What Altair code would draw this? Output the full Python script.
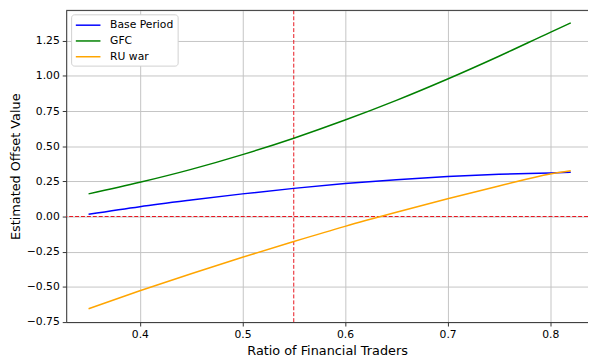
import altair as alt
import pandas as pd

x_vals = [0.35, 0.40, 0.45, 0.50, 0.55, 0.60, 0.65, 0.70, 0.75, 0.80, 0.82]
base_period = [0.016, 0.070, 0.117, 0.161, 0.200, 0.234, 0.262, 0.284, 0.300, 0.310, 0.315]
gfc = [0.161, 0.243, 0.335, 0.440, 0.557, 0.686, 0.826, 0.978, 1.140, 1.310, 1.377]
ru_war = [-0.656, -0.528, -0.407, -0.290, -0.178, -0.070, 0.030, 0.126, 0.217, 0.303, 0.325]
series_names = ["Base Period", "GFC", "RU war"]
series_colors = ["#0000ff", "#008000", "#ffa500"]
vline_x = [0.55]
hline_y = [0.0]
x_ticks = [0.4, 0.5, 0.6, 0.7, 0.8]
y_ticks = [-0.75, -0.5, -0.25, 0.0, 0.25, 0.5, 0.75, 1.0, 1.25]

rows = []
for name, vals in zip(series_names, [base_period, gfc, ru_war]):
    for xv, yv in zip(x_vals, vals):
        rows.append({"x": xv, "y": yv, "series": name})
df = pd.DataFrame(rows)

FONT = "DejaVu Sans"
W, H = 529, 316

xscale = alt.Scale(domain=[0.3282, 0.8368], nice=False, zero=False)
yscale = alt.Scale(domain=[-0.751, 1.466], nice=False, zero=False)

common_axis = dict(grid=True, gridColor="#c4c4c4", gridWidth=1, tickCount=20,
                   labelOverlap=False, labelFlush=False,
                   domainColor="#333333", tickColor="#333333", tickSize=4, labelPadding=3,
                   labelFont=FONT, labelFontSize=10.9, labelColor="#000000",
                   titleFont=FONT, titleFontSize=13, titleFontWeight="normal",
                   titleColor="#000000")

xaxis = alt.Axis(values=x_ticks, format=".1f", title="Ratio of Financial Traders",
                 titlePadding=5, **common_axis)
yaxis = alt.Axis(values=y_ticks, format=".2f", title="Estimated Offset Value",
                 titlePadding=4, **common_axis)

lines = alt.Chart(df).mark_line(strokeWidth=1.5, interpolate="monotone").encode(
    x=alt.X("x:Q", scale=xscale, axis=xaxis),
    y=alt.Y("y:Q", scale=yscale, axis=yaxis),
    color=alt.Color("series:N",
                    scale=alt.Scale(domain=series_names, range=series_colors),
                    legend=alt.Legend(title=None, orient="none", legendX=5, legendY=4,
                                      symbolType="M-1,0H3", symbolSize=156,
                                      symbolStrokeWidth=1.5,
                                      labelFont=FONT, labelFontSize=10.9, labelColor="#000000",
                                      labelOffset=21.5, rowPadding=4,
                                      fillColor="white", strokeColor="#d0d0d0",
                                      cornerRadius=3, padding=4)),
)

vline = alt.Chart(pd.DataFrame({"x": vline_x})).mark_rule(
    color="#e8141e", strokeWidth=1, strokeDash=[4, 2]
).encode(x=alt.X("x:Q", scale=xscale))

hline = alt.Chart(pd.DataFrame({"y": hline_y})).mark_rule(
    color="#e8141e", strokeWidth=1, strokeDash=[4, 2]
).encode(y=alt.Y("y:Q", scale=yscale))

top_border = alt.Chart(pd.DataFrame({"a": [0]})).mark_rule(
    color="#333333", strokeWidth=1
).encode(y=alt.value(0), x=alt.value(0), x2=alt.value(W))

chart = alt.layer(vline, hline, lines, top_border).properties(
    width=W, height=H,
    autosize=alt.AutoSizeParams(type="none"),
    padding={"left": 59, "top": 0, "right": 0, "bottom": 35},
).configure_view(stroke=None).configure(background="white")

chart.save("out.html", embed_options={"renderer": "svg", "actions": False})
